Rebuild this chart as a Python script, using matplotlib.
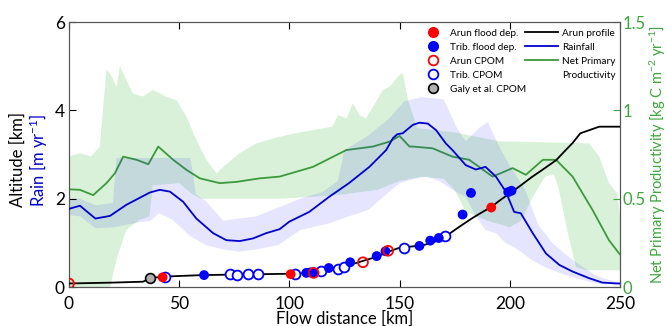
import numpy as np
import matplotlib
matplotlib.use("Agg")
import matplotlib.pyplot as plt
from matplotlib.lines import Line2D

plt.rcParams['font.family'] = ['Lato', 'DejaVu Sans']
plt.rcParams['mathtext.default'] = 'regular'

# ---------------- data ----------------
# Arun river long profile (km)
profile_x = [0, 20, 33.5, 38, 45, 60.7, 86.5, 100, 110.6, 120, 130, 140, 145, 150, 160, 165,
             171, 177, 183, 187, 191.5, 196, 200, 205, 210, 215, 221, 225, 228.5, 232, 236, 240.6, 250]
profile_y = [0.08, 0.10, 0.12, 0.21, 0.24, 0.27, 0.29, 0.30, 0.32, 0.43, 0.54, 0.69, 0.80, 0.89, 0.94, 1.00,
             1.15, 1.36, 1.56, 1.68, 1.81, 1.98, 2.12, 2.30, 2.49, 2.66, 2.87, 3.08, 3.26, 3.48, 3.55, 3.63, 3.63]

# Rainfall (m/yr)
rain_x = [0, 5, 12, 18.6, 26, 36.7, 41.2, 45.8, 51.8, 57.8, 65.4, 71.4, 77.5, 83.5, 89.5, 95.6, 100,
          109, 118, 127, 136.3, 143.9, 147, 149, 151.4, 156, 159, 162.8, 166.6, 171, 174, 180, 184.6,
          189, 193.7, 198.2, 202, 205, 210.4, 216.4, 222.5, 228.5, 236, 242, 249, 250]
rain_y = [1.77, 1.84, 1.55, 1.61, 1.86, 2.14, 2.20, 2.16, 1.93, 1.55, 1.22, 1.06, 1.04, 1.10, 1.22, 1.31, 1.48,
          1.70, 2.04, 2.35, 2.72, 3.10, 3.37, 3.46, 3.48, 3.67, 3.72, 3.70, 3.55, 3.25, 3.10, 2.76, 2.66,
          2.72, 2.50, 2.16, 1.70, 1.67, 1.22, 0.76, 0.50, 0.35, 0.20, 0.10, 0.08, 0.08]

rain_hi_x = [0, 5, 12, 20, 21.5, 30, 37, 47, 55, 56.5, 57.5, 62, 70, 77, 85, 95, 105, 115, 122, 125,
             135, 145, 152, 160, 170, 176, 180, 186, 190, 195, 200, 207, 213, 219.5, 228.5, 237.6, 242, 250]
rain_hi = [2.0, 2.0, 1.85, 1.9, 2.92, 2.92, 2.92, 2.92, 2.92, 2.5, 2.1, 1.95, 1.5, 1.55, 1.6, 1.8, 2.0, 2.15, 2.4, 3.1,
           3.4, 3.8, 4.2, 4.3, 4.25, 3.6, 3.3, 3.6, 3.74, 3.2, 2.75, 2.2, 1.4, 0.99, 0.61, 0.31, 0.2, 0.1]
rain_lo_x = [0, 5, 12, 20, 30, 37, 41, 47, 55, 62, 70, 77, 85, 95, 105, 118, 127, 136, 144, 150, 157, 162,
             168, 174, 180, 184.6, 189, 194, 198, 202, 205, 210, 216, 222, 228, 236, 242, 250]
rain_lo = [1.63, 1.6, 1.33, 1.35, 1.45, 1.5, 1.67, 1.52, 1.15, 0.95, 0.85, 0.80, 0.85, 0.95, 1.29, 1.44, 1.6, 1.75,
           2.1, 2.35, 2.45, 2.5, 2.4, 2.2, 2.04, 1.6, 1.29, 1.21, 1.0, 0.9, 0.8, 0.61, 0.45, 0.33, 0.23, 0.12, 0.06, 0.05]

# Net primary productivity (kg C m-2 yr-1)
npp_x = [0, 5, 11, 17, 20.8, 24.6, 30.7, 36, 40.5, 47.3, 53.3, 59.4, 68.4, 76, 86.5, 95.6, 110.7, 125.8,
         137.9, 145.5, 150, 154.5, 156, 165, 174, 181.6, 192.2, 201.3, 207.3, 215, 221, 228.5, 237.6, 245, 249.6, 250]
npp_y = [0.553, 0.55, 0.52, 0.588, 0.643, 0.738, 0.72, 0.695, 0.795, 0.72, 0.663, 0.615, 0.588, 0.595, 0.615, 0.625,
         0.68, 0.775, 0.795, 0.823, 0.855, 0.795, 0.795, 0.785, 0.738, 0.72, 0.625, 0.673, 0.635, 0.72, 0.72, 0.625,
         0.435, 0.265, 0.19, 0.185]

npp_hi_x = [0, 5, 10, 14, 17, 18.6, 21.6, 23.1, 26, 29, 33.6, 38.2, 44, 48.8, 53.3, 57.8, 62.4, 67, 70, 77.5, 85,
            95.6, 104.7, 110.7, 119.7, 122, 126, 128.8, 131.8, 134.8, 139.4, 142.4, 145.4, 150, 151.5, 154, 158,
            175, 185, 195, 236, 240.6, 245, 248.8, 250]
npp_hi = [0.738, 0.758, 0.738, 0.795, 1.228, 1.21, 1.133, 1.248, 1.173, 1.095, 1.078, 1.115, 1.078, 1.058, 0.965,
          0.833, 0.72, 0.643, 0.68, 0.758, 0.813, 0.85, 0.875, 0.888, 0.908, 0.973, 0.955, 1.04, 0.973, 0.955, 1.05,
          1.115, 1.133, 1.2, 1.21, 1.05, 0.9, 0.875, 0.85, 0.825, 0.813, 0.738, 0.588, 0.53, 0.398]
npp_lo_x = [0, 18.6, 22, 26, 32, 36.5, 38, 50, 56, 60, 80, 95, 110, 125, 140, 150, 160, 170, 175, 180, 190, 200,
            205, 210, 216, 220, 222, 226, 230, 235, 250]
npp_lo = [0.0, 0.0, 0.175, 0.323, 0.38, 0.4, 0.575, 0.588, 0.525, 0.5, 0.5, 0.5, 0.51, 0.525, 0.55, 0.6, 0.625,
          0.613, 0.55, 0.425, 0.375, 0.338, 0.375, 0.5, 0.625, 0.638, 0.568, 0.325, 0.113, 0.095, 0.095]

# Sample points (flow distance km, altitude km)
arun_flood_x = [42.5, 100.6, 191.6]
arun_flood_y = [0.22, 0.29, 1.80]
trib_flood_x = [61.3, 107.7, 109.5, 111, 117.9, 127.6, 139.6, 143.6, 159.0, 163.9, 167.8, 178.6, 182.4, 199.3, 200.8]
trib_flood_y = [0.27, 0.32, 0.33, 0.33, 0.43, 0.56, 0.70, 0.81, 0.93, 1.05, 1.11, 1.64, 2.13, 2.15, 2.18]
arun_cpom_x = [0, 111, 133.4, 144.8]
arun_cpom_y = [0.08, 0.32, 0.56, 0.82]
trib_cpom_x = [43.5, 73.2, 76.4, 81.2, 85.8, 102.4, 114.2, 122.2, 125, 152, 170.5]
trib_cpom_y = [0.22, 0.29, 0.28, 0.30, 0.30, 0.30, 0.37, 0.40, 0.46, 0.89, 1.15]
galy_x = [36.7]
galy_y = [0.21]

# ---------------- plot ----------------
GREEN_LINE = '#3c9a3c'
GREEN_FILL = (0.05, 0.66, 0.05, 0.16)
BLUE_LINE = '#0000cc'
BLUE_FILL = (0.1, 0.1, 1.0, 0.11)
GREEN_TXT = '#3fa63f'

fig = plt.figure(figsize=(6.67, 3.26), dpi=100)
ax = fig.add_axes([0.1034, 0.1196, 0.8261, 0.8129])
ax2 = ax.twinx()

# NPP on right axis (drawn beneath)
ax2.fill(list(npp_hi_x) + list(npp_lo_x[::-1]), list(npp_hi) + list(npp_lo[::-1]),
         color=GREEN_FILL, lw=0, zorder=1)
ax2.plot(npp_x, npp_y, color=GREEN_LINE, lw=1.3, zorder=3)
ax2.set_ylim(0, 1.5)
ax2.set_yticks([0, 0.5, 1, 1.5])
ax2.set_yticklabels(['0', '0.5', '1', '1.5'])
ax2.tick_params(axis='y', direction='in', length=5, colors=GREEN_TXT, labelsize=12, pad=2)

ax.set_zorder(ax2.get_zorder() + 1)
ax.patch.set_visible(False)

ax.fill(list(rain_hi_x) + list(rain_lo_x[::-1]), list(rain_hi) + list(rain_lo[::-1]),
        color=BLUE_FILL, lw=0, zorder=1)
ax.plot(rain_x, rain_y, color=BLUE_LINE, lw=1.3, zorder=3)
ax.plot(profile_x, profile_y, color='black', lw=1.3, zorder=4)

ms = 50
ax.scatter(trib_cpom_x, trib_cpom_y, s=ms, facecolors='white', edgecolors='#0000ff', linewidths=1.3, zorder=5)
ax.scatter(trib_flood_x, trib_flood_y, s=ms, color='#0000ff', edgecolors='none', zorder=6)
ax.scatter(arun_flood_x, arun_flood_y, s=ms, color='#ff0000', edgecolors='none', zorder=7)
ax.scatter(arun_cpom_x, arun_cpom_y, s=ms, facecolors='none', edgecolors='#ff0000', linewidths=1.3, zorder=8)
ax.scatter(galy_x, galy_y, s=ms, color='#b0b0b0', edgecolors='black', linewidths=1.2, zorder=8)

ax.set_xlim(0, 250)
ax.set_ylim(0, 6)
ax.set_xticks([0, 50, 100, 150, 200, 250])
ax.set_yticks([0, 2, 4, 6])
ax.tick_params(axis='x', direction='in', length=5, labelsize=12.5, top=True, pad=6.5)
ax.tick_params(axis='y', direction='in', length=5, labelsize=12.5, pad=3)
ax.set_xlabel('Flow distance [km]', fontsize=12, labelpad=-1)

for sp in ax.spines.values():
    sp.set_color('#555555')
for sp in ax2.spines.values():
    sp.set_color('#555555')

fig.text(0.027, 0.51, 'Altitude [km]', rotation=90, ha='center', va='center', fontsize=12)
fig.text(0.058, 0.51, 'Rain [m yr$^{-1}$]', rotation=90, ha='center', va='center', fontsize=12, color=BLUE_LINE)
fig.text(0.986, 0.525, 'Net Primary Productivity [kg C m$^{-2}$ yr$^{-1}$]', rotation=90, ha='center',
         va='center', fontsize=10.5, color=GREEN_TXT)

# Legends
h1 = [
    Line2D([], [], ls='none', marker='o', ms=7, mfc='#ff0000', mec='#ff0000'),
    Line2D([], [], ls='none', marker='o', ms=7, mfc='#0000ff', mec='#0000ff'),
    Line2D([], [], ls='none', marker='o', ms=7, mfc='white', mec='#ff0000', mew=1.3),
    Line2D([], [], ls='none', marker='o', ms=7, mfc='white', mec='#0000ff', mew=1.3),
    Line2D([], [], ls='none', marker='o', ms=7, mfc='#b0b0b0', mec='black', mew=1.2),
]
l1 = ['Arun flood dep.', 'Trib. flood dep.', 'Arun CPOM', 'Trib. CPOM', 'Galy et al. CPOM']
leg1 = ax.legend(h1, l1, loc='upper left', bbox_to_anchor=(0.6505, 0.975), frameon=False, fontsize=7.2,
                 handlelength=1.1, handletextpad=1.15, labelspacing=0.5, borderaxespad=0, borderpad=0)
ax.add_artist(leg1)
h2 = [Line2D([], [], color='black', lw=1.3), Line2D([], [], color=BLUE_LINE, lw=1.3),
      Line2D([], [], color=GREEN_LINE, lw=1.3), Line2D([], [], color='none', lw=0)]
l2 = ['Arun profile', 'Rainfall', 'Net Primary', 'Productivity']
leg2 = ax.legend(h2, l2, loc='upper left', bbox_to_anchor=(0.8276, 0.975), frameon=False, fontsize=7.2,
                 handlelength=3.3, handletextpad=0.4, labelspacing=0.5, borderaxespad=0, borderpad=0)

fig.savefig('out.png', dpi=100)
